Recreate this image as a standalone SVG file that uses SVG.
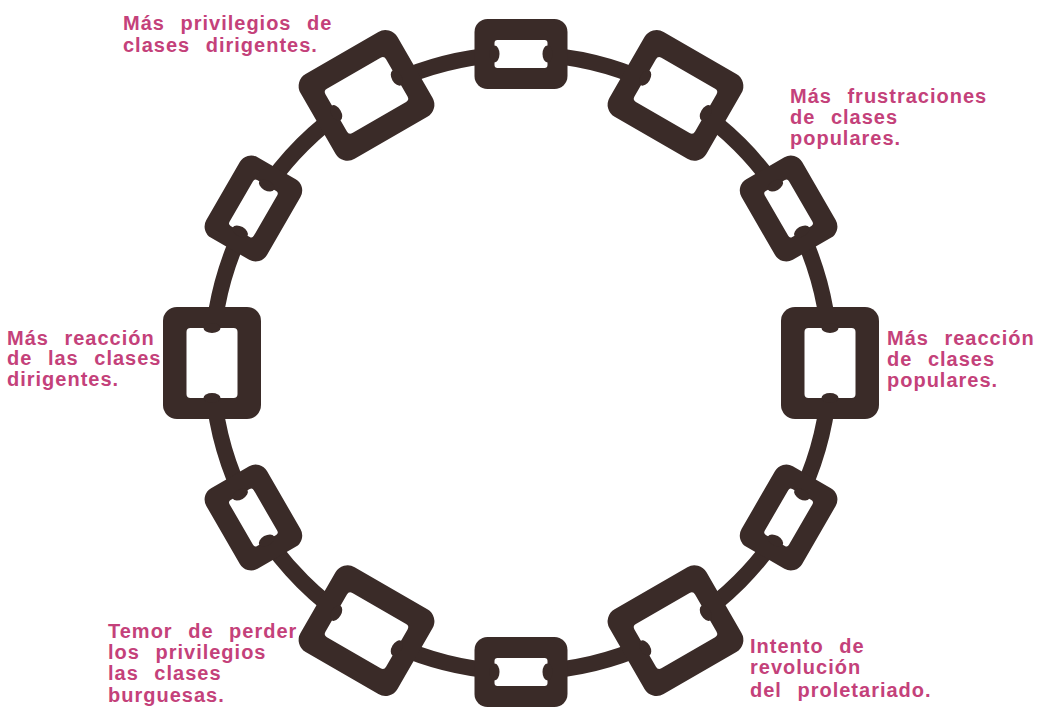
<svg xmlns="http://www.w3.org/2000/svg" width="1043" height="707" viewBox="0 0 1043 707">
<style>
.chain{fill:none;stroke:#3a2b28;stroke-width:16}
.ink{fill:#3a2b28}
.hole{fill:#ffffff}
.lbl{font-family:"Liberation Sans",Arial,sans-serif;font-weight:bold;font-size:20px;fill:#c4417a;word-spacing:9px;letter-spacing:1px}
</style>
<defs>
<g id="small">
<rect class="ink" x="-46.5" y="-35" width="93" height="70" rx="13"/>
<rect class="hole" x="-26.5" y="-14" width="53" height="28" rx="3"/>
<ellipse class="ink" cx="-26.5" cy="0" rx="5" ry="8.5"/>
<ellipse class="ink" cx="26.5" cy="0" rx="5" ry="8.5"/>
</g>
<g id="large">
<rect class="ink" x="-56" y="-49" width="112" height="98" rx="14"/>
<rect class="hole" x="-35" y="-25.5" width="70" height="51" rx="4"/>
<ellipse class="ink" cx="-35" cy="0" rx="5" ry="8.5"/>
<ellipse class="ink" cx="35" cy="0" rx="5" ry="8.5"/>
</g>
</defs>
<rect width="1043" height="707" fill="#ffffff"/>
<g id="connectors">
<circle class="chain" cx="521" cy="363" r="309"/>
</g>
<g id="links">
<use id="link0" href="#small" transform="translate(521,54) rotate(0)"/>
<use id="link30" href="#large" transform="translate(675.5,95.4) rotate(30)"/>
<use id="link60" href="#small" transform="translate(788.6,208.5) rotate(60)"/>
<use id="link90" href="#large" transform="translate(830,363) rotate(90)"/>
<use id="link120" href="#small" transform="translate(788.6,517.5) rotate(120)"/>
<use id="link150" href="#large" transform="translate(675.5,630.6) rotate(150)"/>
<use id="link180" href="#small" transform="translate(521,672) rotate(180)"/>
<use id="link210" href="#large" transform="translate(366.5,630.6) rotate(210)"/>
<use id="link240" href="#small" transform="translate(253.4,517.5) rotate(240)"/>
<use id="link270" href="#large" transform="translate(212,363) rotate(270)"/>
<use id="link300" href="#small" transform="translate(253.4,208.5) rotate(300)"/>
<use id="link330" href="#large" transform="translate(366.5,95.4) rotate(330)"/>
</g>
<g id="label-top-left">
<text class="lbl" x="123" y="30">Más privilegios de</text>
<text class="lbl" x="123" y="52">clases dirigentes.</text>
</g>
<g id="label-top-right">
<text class="lbl" x="790" y="103">Más frustraciones</text>
<text class="lbl" x="790" y="124">de clases</text>
<text class="lbl" x="790" y="145">populares.</text>
</g>
<g id="label-right">
<text class="lbl" x="887" y="345">Más reacción</text>
<text class="lbl" x="887" y="366">de clases</text>
<text class="lbl" x="887" y="387">populares.</text>
</g>
<g id="label-left">
<text class="lbl" x="7" y="345">Más reacción</text>
<text class="lbl" x="7" y="365">de las clases</text>
<text class="lbl" x="7" y="386">dirigentes.</text>
</g>
<g id="label-bottom-left">
<text class="lbl" x="108" y="638">Temor de perder</text>
<text class="lbl" x="108" y="659">los privilegios</text>
<text class="lbl" x="108" y="680">las clases</text>
<text class="lbl" x="108" y="702">burguesas.</text>
</g>
<g id="label-bottom-right">
<text class="lbl" x="750" y="653">Intento de</text>
<text class="lbl" x="750" y="674">revolución</text>
<text class="lbl" x="750" y="697">del proletariado.</text>
</g>
</svg>
